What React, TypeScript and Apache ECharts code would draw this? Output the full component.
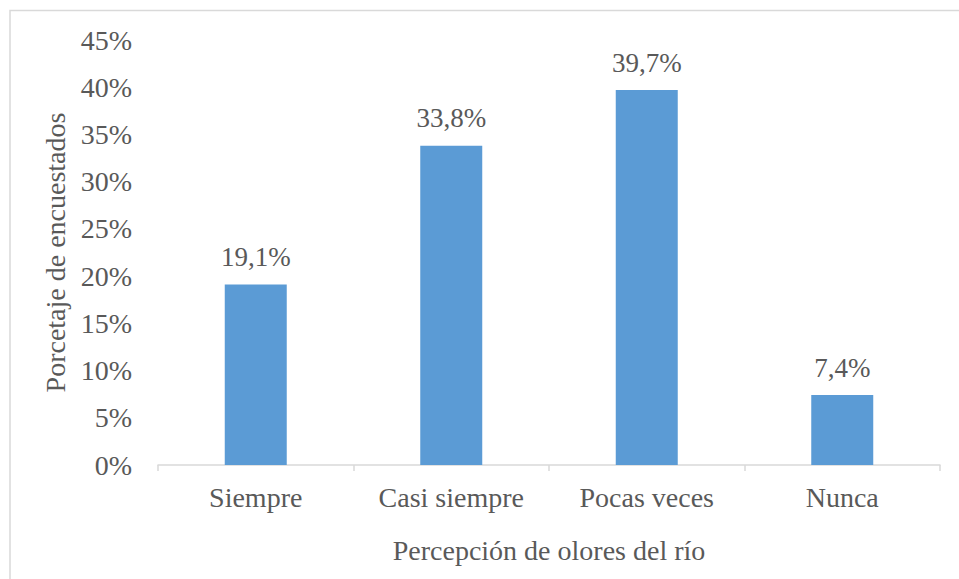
import React, { useEffect, useRef } from "react";
import * as echarts from "echarts";

const categories = ["Siempre", "Casi siempre", "Pocas veces", "Nunca"];
const values = [19.1, 33.8, 39.7, 7.4];
const yTitle = "Porcetaje de encuestados";
const xTitle = "Percepción de olores del río";

const FONT = "'Liberation Serif', 'Times New Roman', serif";
const TEXT = "#595959";

export default function App() {
  const ref = useRef<HTMLDivElement>(null);
  useEffect(() => {
    if (!ref.current) return;
    const chart = echarts.init(ref.current, undefined, { renderer: "svg" });
    chart.setOption({
      animation: false,
      backgroundColor: "#ffffff",
      textStyle: { fontFamily: FONT },
      graphic: [
        {
          type: "rect",
          shape: { x: 10, y: 10.5, width: 1200, height: 1200 },
          style: { fill: "none", stroke: "#d9d9d9", lineWidth: 1.5 },
          silent: true,
        },
      ],
      grid: { left: 158, right: 19, top: 40, bottom: 114, containLabel: false },
      xAxis: {
        type: "category",
        data: categories,
        name: xTitle,
        nameLocation: "middle",
        nameGap: 71,
        nameTextStyle: { fontFamily: FONT, fontSize: 28, color: TEXT },
        axisLine: { lineStyle: { color: "#d9d9d9", width: 1.5 } },
        axisTick: { show: true, length: 6, lineStyle: { color: "#d9d9d9", width: 1.5 } },
        axisLabel: { fontFamily: FONT, fontSize: 28, color: TEXT, margin: 18 },
      },
      yAxis: {
        type: "value",
        min: 0,
        max: 45,
        interval: 5,
        name: yTitle,
        nameLocation: "middle",
        nameGap: 85,
        nameTextStyle: { fontFamily: FONT, fontSize: 28, color: TEXT },
        axisLine: { show: false },
        axisTick: { show: false },
        splitLine: { show: false },
        axisLabel: { fontFamily: FONT, fontSize: 28, color: TEXT, margin: 26, formatter: "{value}%" },
      },
      series: [
        {
          type: "bar",
          data: values,
          barWidth: 62,
          itemStyle: { color: "#5b9bd5" },
          label: {
            show: true,
            position: "top",
            distance: 14,
            fontFamily: FONT,
            fontSize: 27,
            color: TEXT,
            formatter: (p: any) => String(p.value).replace(".", ",") + "%",
          },
        },
      ],
    });
    return () => chart.dispose();
  }, []);
  return (
    <div
      ref={ref}
      style={{ position: "absolute", left: 0, top: 0, width: 959, height: 579, background: "#fff" }}
    />
  );
}
